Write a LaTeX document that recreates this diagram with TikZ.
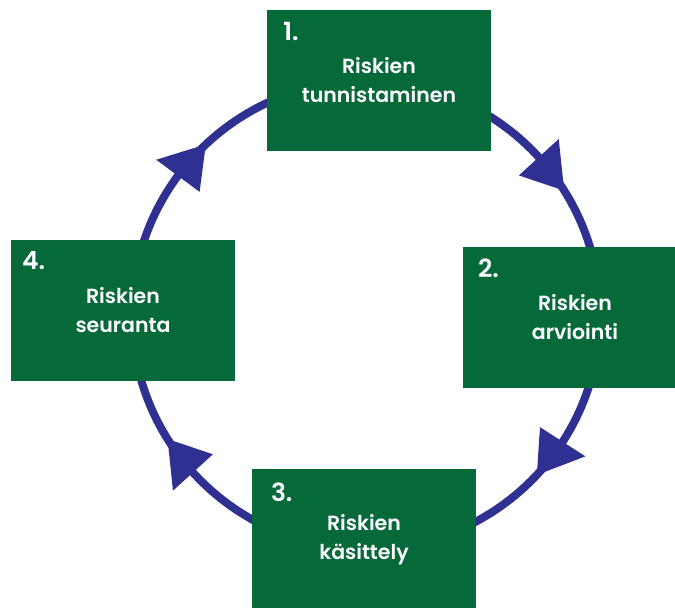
\documentclass[tikz,border=0pt]{standalone}
\usepackage{fontspec}
\newfontfamily\boxfont{Poppins SemiBold}
\definecolor{boxgreen}{RGB}{6,105,57}
\definecolor{ringblue}{RGB}{46,49,146}
\begin{document}
\begin{tikzpicture}[x=1pt,y=1pt,
  box/.style={fill=boxgreen, draw=none, minimum width=224pt, minimum height=141pt, inner sep=0pt,
    text=white, font=\boxfont\fontsize{20.5}{29}\selectfont, align=center},
  numtext/.style={text=white, font=\boxfont\fontsize{25}{30}\selectfont, inner sep=0pt, anchor=north west},
  ring/.style={draw=ringblue, line width=8pt},
  tiphead/.style={fill=ringblue, draw=none}]
\clip (0,0) rectangle (675,608);
\coordinate (c) at (366,293);
\draw[ring] (c) circle[radius=234];
\foreach \t in {133.2,32.1,-43.1,212}{
  \fill[tiphead] ([shift={(\t:234)}]c) -- ([shift={(\t+10.3:207)}]c) -- ([shift={(\t+10.3:261)}]c) -- cycle;
}
\node[box] (b1) at (379,527.5) {Riskien\\tunnistaminen};
\node[box] (b2) at (575,290.5) {Riskien\\arviointi};
\node[box] (b3) at (364,68.5) {Riskien\\käsittely};
\node[box] (b4) at (123,297.5) {Riskien\\seuranta};
\node[numtext] (n1) at ([shift={(16,-12)}]b1.north west) {1.};
\node[numtext] (n2) at ([shift={(15,-12)}]b2.north west) {2.};
\node[numtext] (n3) at ([shift={(19,-14)}]b3.north west) {3.};
\node[numtext] (n4) at ([shift={(11,-12)}]b4.north west) {4.};
\end{tikzpicture}
\end{document}
